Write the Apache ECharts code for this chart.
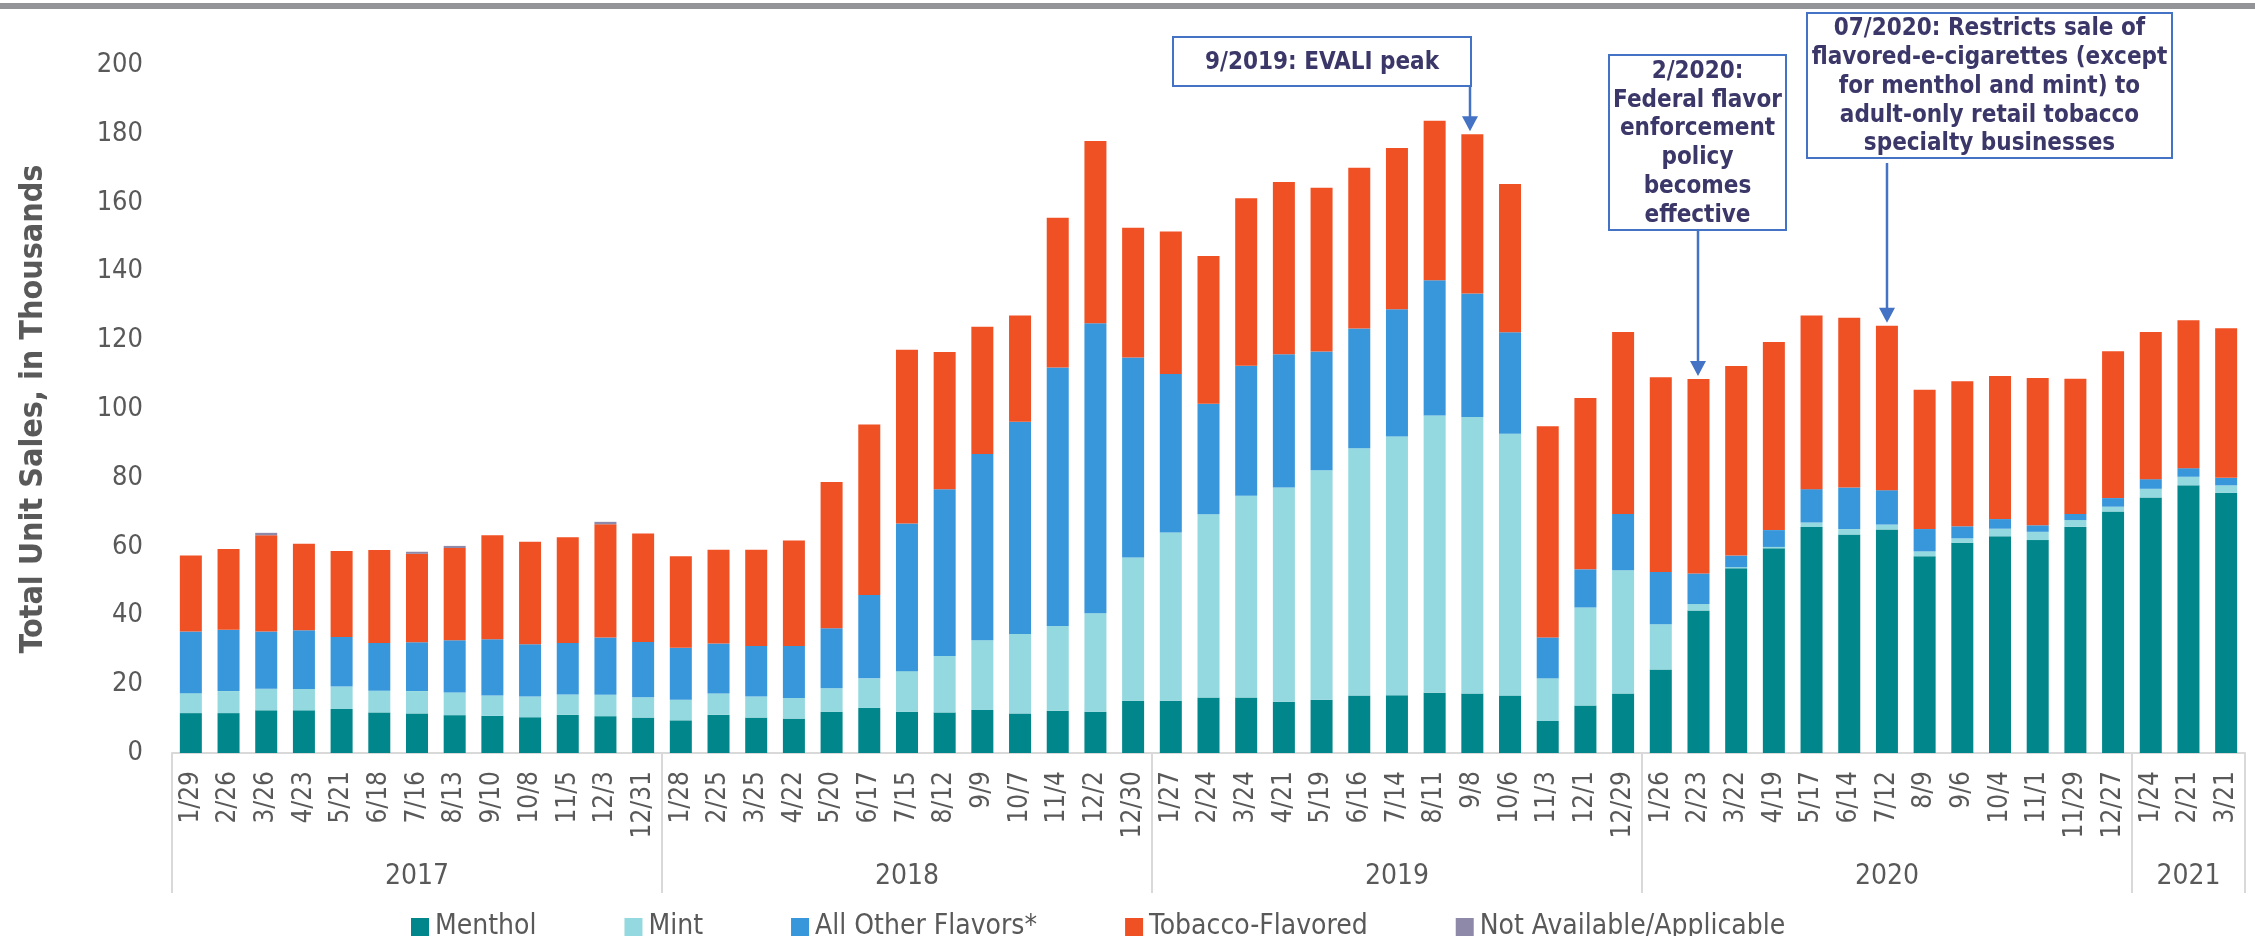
<!DOCTYPE html>
<html>
<head>
<meta charset="utf-8">
<script src="https://cdn.jsdelivr.net/npm/echarts@6/dist/echarts.min.js"></script>
<style>
  html, body { margin: 0; padding: 0; background: #ffffff; }
  #chart { width: 2255px; height: 936px; }
</style>
</head>
<body>
<div id="chart"></div>
<script>
// Four-week periods, grouped by year
const weeks = [
  '1/29','2/26','3/26','4/23','5/21','6/18','7/16','8/13','9/10','10/8','11/5','12/3','12/31',
  '1/28','2/25','3/25','4/22','5/20','6/17','7/15','8/12','9/9','10/7','11/4','12/2','12/30',
  '1/27','2/24','3/24','4/21','5/19','6/16','7/14','8/11','9/8','10/6','11/3','12/1','12/29',
  '1/26','2/23','3/22','4/19','5/17','6/14','7/12','8/9','9/6','10/4','11/1','11/29','12/27',
  '1/24','2/21','3/21'
];
const years = ['2017', '2018', '2019', '2020', '2021'];
const weeksPerYear = [13, 13, 13, 13, 3];

// Unit sales by flavor, in thousands
const menthol = [
  11.6, 11.6, 12.4, 12.4, 12.8, 11.8, 11.5, 11.0, 10.8, 10.4, 11.1, 10.7, 10.3,
  9.5, 11.1, 10.3, 10.0, 12.0, 13.1, 12.0, 11.8, 12.5, 11.5, 12.3, 12.0, 15.2,
  15.2, 16.1, 16.1, 14.9, 15.5, 16.7, 16.8, 17.5, 17.3, 16.7, 9.3, 13.8, 17.3,
  24.3, 41.4, 53.7, 59.5, 65.7, 63.5, 65.0, 57.2, 61.1, 63.0, 61.9, 65.8, 70.2,
  74.3, 77.8, 75.6
];
const mint = [
  5.8, 6.4, 6.3, 6.2, 6.5, 6.3, 6.5, 6.6, 5.9, 6.0, 5.9, 6.2, 5.9,
  6.0, 6.2, 6.1, 6.0, 6.8, 8.6, 11.8, 16.4, 20.3, 23.1, 24.6, 28.6, 41.6,
  48.9, 53.3, 58.7, 62.3, 66.7, 71.9, 75.2, 80.6, 80.4, 76.1, 12.4, 28.5, 35.8,
  13.1, 1.9, 0.3, 0.4, 1.3, 1.6, 1.4, 1.4, 1.3, 2.2, 2.4, 1.9, 1.4,
  2.5, 2.5, 2.2
];
const allOther = [
  17.9, 17.8, 16.6, 17.1, 14.4, 13.9, 14.2, 15.2, 16.4, 15.2, 15.0, 16.7, 16.1,
  15.1, 14.5, 14.7, 15.1, 17.5, 24.2, 42.9, 48.5, 54.1, 61.7, 75.2, 84.3, 58.2,
  46.1, 32.1, 37.8, 38.7, 34.5, 34.8, 37.0, 39.3, 35.9, 29.5, 11.9, 11.1, 16.4,
  15.2, 8.9, 3.4, 4.9, 9.7, 12.1, 10.0, 6.5, 3.5, 2.8, 1.9, 1.8, 2.5,
  2.8, 2.5, 2.2
];
const tobacco = [
  22.1, 23.5, 28.0, 25.1, 25.0, 27.0, 25.7, 26.8, 30.2, 29.8, 30.7, 32.9, 31.5,
  26.6, 27.3, 28.0, 30.7, 42.5, 49.6, 50.5, 39.9, 37.0, 30.9, 43.5, 53.0, 37.7,
  41.4, 43.0, 48.7, 50.1, 47.6, 46.7, 46.9, 46.4, 46.3, 43.1, 61.4, 49.8, 52.9,
  56.6, 56.5, 55.1, 54.7, 50.5, 49.3, 47.8, 40.5, 42.2, 41.6, 42.8, 39.3, 42.7,
  42.8, 43.0, 43.5
];
const notAvailable = [
  0, 0, 0.7, 0, 0, 0, 0.6, 0.6, 0, 0, 0, 0.7, 0,
  0, 0, 0, 0, 0, 0, 0, 0, 0, 0, 0, 0, 0,
  0, 0, 0, 0, 0, 0, 0, 0, 0, 0, 0, 0, 0,
  0, 0, 0, 0, 0, 0, 0, 0, 0, 0, 0, 0, 0,
  0, 0, 0
];

const seriesNames = ['Menthol', 'Mint', 'All Other Flavors*', 'Tobacco-Flavored', 'Not Available/Applicable'];
const seriesColors = ['#00868b', '#93d9df', '#3797da', '#f05124', '#8e89a9'];

const yMin = 0, yMax = 200, yStep = 20;
const yTitle = 'Total Unit Sales, in Thousands';

// Callouts: [week index, text lines]
const callouts = [
  { index: 34, lines: ['9/2019: EVALI peak'] },
  { index: 40, lines: ['2/2020:', 'Federal flavor', 'enforcement', 'policy', 'becomes', 'effective'] },
  { index: 45, lines: ['07/2020: Restricts sale of', 'flavored-e-cigarettes (except', 'for menthol and mint) to', 'adult-only retail tobacco', 'specialty businesses'] }
];

const FONT = "'DejaVu Sans Condensed', 'Liberation Sans Narrow', 'Liberation Sans', sans-serif";
const GREY_TEXT = '#595959';
const NAVY = '#3b3768';
const CALLOUT_BLUE = '#4472c4';

// group starts and label positions for the year row
const groupStarts = [];
const groupCenters = {};
let acc = 0;
years.forEach((y, k) => {
  groupStarts.push(acc);
  groupCenters[acc + Math.floor((weeksPerYear[k] - 1) / 2)] = y;
  acc += weeksPerYear[k];
});

const chart = echarts.init(document.getElementById('chart'), null, { renderer: 'canvas' });

const valueSets = [menthol, mint, allOther, tobacco, notAvailable];
const series = seriesNames.map((name, k) => ({
  name: name,
  type: 'bar',
  stack: 'sales',
  barWidth: 22,
  data: valueSets[k],
  itemStyle: { color: seriesColors[k] },
  emphasis: { disabled: true }
}));

chart.setOption({
  animation: false,
  backgroundColor: '#ffffff',
  grid: { left: 172, right: 10, top: 65, bottom: 183, containLabel: false },
  legend: {
    data: seriesNames,
    left: 406,
    top: 908,
    icon: 'rect',
    itemWidth: 18,
    itemHeight: 18,
    itemGap: 88,
    textStyle: { fontFamily: FONT, fontSize: 28, color: GREY_TEXT, padding: [0, 0, 0, 1] }
  },
  xAxis: [
    {
      type: 'category',
      data: weeks,
      position: 'bottom',
      axisLine: { show: true, lineStyle: { color: '#d9d9d9', width: 2 } },
      axisTick: { show: false },
      axisLabel: {
        interval: 0,
        rotate: 90,
        margin: 18,
        fontFamily: FONT,
        fontSize: 26,
        color: GREY_TEXT
      }
    },
    {
      type: 'category',
      data: weeks,
      position: 'bottom',
      axisLine: { show: false },
      axisTick: {
        show: true,
        length: 140,
        interval: (index) => groupStarts.indexOf(index) >= 0,
        lineStyle: { color: '#d9d9d9', width: 2 }
      },
      axisLabel: {
        interval: (index) => groupCenters[index] !== undefined,
        formatter: (value, index) => groupCenters[index] || '',
        margin: 110,
        fontFamily: FONT,
        fontSize: 28,
        color: GREY_TEXT
      }
    }
  ],
  yAxis: {
    type: 'value',
    min: yMin,
    max: yMax,
    interval: yStep,
    axisLine: { show: false },
    axisTick: { show: false },
    splitLine: { show: false },
    axisLabel: { margin: 29, fontFamily: FONT, fontSize: 27, color: GREY_TEXT },
    name: yTitle,
    nameLocation: 'middle',
    nameGap: 122,
    nameTextStyle: {
      fontFamily: FONT,
      fontWeight: 'bold',
      fontSize: 32,
      color: GREY_TEXT
    }
  },
  series: series
});

// Callout boxes and arrows, anchored to the bars they point at
function totalAt(i) {
  return valueSets.reduce((s, arr) => s + arr[i], 0);
}
function px(i, v) {
  return chart.convertToPixel({ xAxisIndex: 0, yAxisIndex: 0 }, [i, v]);
}

const boxLayouts = [
  // box left offset from arrow, box width, box top, box bottom, arrow start
  { left: -297, width: 298, top: 37, bottom: 86, arrowFrom: 86 },
  { left: -89, width: 177, top: 55, bottom: 230, arrowFrom: 230 },
  { left: -80, width: 365, top: 13, bottom: 158, arrowFrom: 163 }
];

const graphics = [
  { type: 'rect', shape: { x: 0, y: 3, width: 2255, height: 6 }, style: { fill: '#929497' }, silent: true }
];

callouts.forEach((c, k) => {
  const L = boxLayouts[k];
  const top = px(c.index, totalAt(c.index));
  const ax = Math.round(top[0]) - (k === 0 ? 2 : 0);
  const tipY = top[1] - 3;
  const bx = ax + L.left;
  graphics.push({
    type: 'rect',
    shape: { x: bx, y: L.top, width: L.width, height: L.bottom - L.top },
    style: { fill: '#ffffff', stroke: CALLOUT_BLUE, lineWidth: 2 },
    z: 10, silent: true
  });
  graphics.push({
    type: 'text',
    x: bx + L.width / 2,
    y: (L.top + L.bottom) / 2 + 1,
    style: {
      text: c.lines.join('\n'),
      font: 'bold 24px ' + FONT,
      fill: NAVY,
      align: 'center',
      verticalAlign: 'middle',
      lineHeight: 28.8
    },
    z: 11, silent: true
  });
  graphics.push({
    type: 'line',
    shape: { x1: ax, y1: L.arrowFrom, x2: ax, y2: tipY - 12 },
    style: { stroke: CALLOUT_BLUE, lineWidth: 2.5 },
    z: 10, silent: true
  });
  graphics.push({
    type: 'polygon',
    shape: { points: [[ax - 8, tipY - 15], [ax + 8, tipY - 15], [ax, tipY]] },
    style: { fill: CALLOUT_BLUE },
    z: 10, silent: true
  });
});

chart.setOption({ graphic: graphics });
</script>
</body>
</html>
